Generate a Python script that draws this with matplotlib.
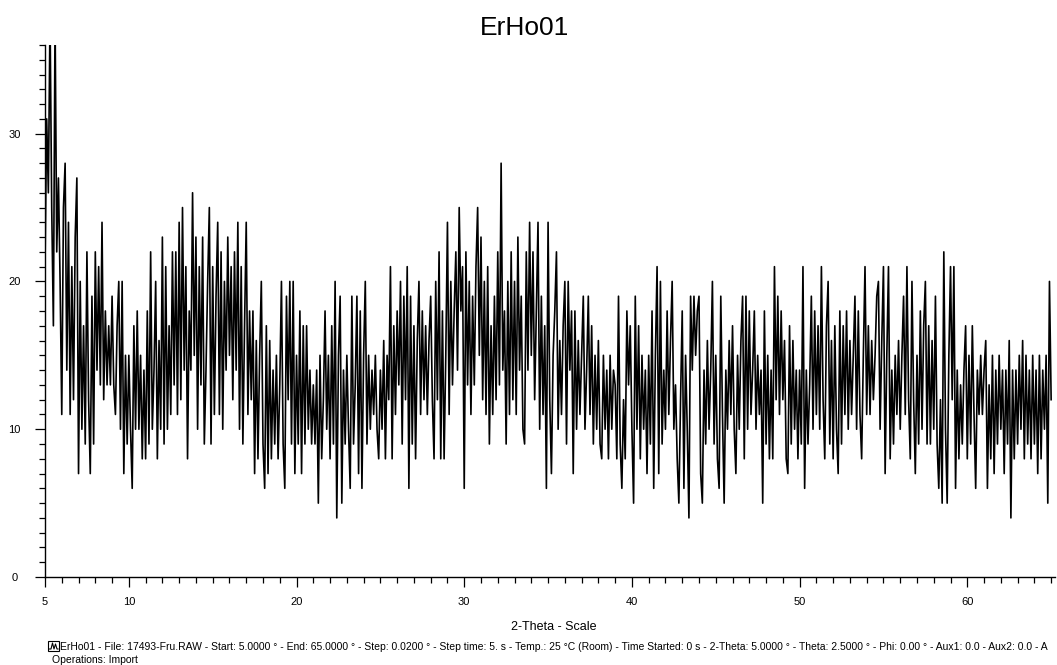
import numpy as np
import matplotlib
matplotlib.use("Agg")
import matplotlib.pyplot as plt
from matplotlib.ticker import MultipleLocator
from matplotlib.patches import Rectangle
from matplotlib.lines import Line2D

plt.rcParams['font.family'] = ['Liberation Sans', 'DejaVu Sans']

# co 0.1 stopnia (5.0 ... 65.0)
counts_05_15 = [
    21, 31, 26, 38, 25, 17, 38, 22, 27, 20,
    11, 25, 28, 14, 24, 11, 21, 12, 23, 27,
    7, 20, 10, 17, 9, 22, 12, 7, 19, 9,
    22, 14, 21, 13, 24, 12, 18, 13, 17, 13,
    19, 13, 11, 17, 20, 10, 20, 7, 15, 9,
    15, 10, 6, 17, 10, 18, 10, 15, 8, 14,
    8, 18, 9, 22, 10, 14, 20, 8, 16, 10,
    23, 9, 21, 10, 17, 11, 22, 13, 22, 11,
    24, 12, 25, 14, 21, 8, 18, 14, 26, 15,
    23, 10, 21, 13, 23, 9, 14, 20, 25, 9,
]
counts_15_25 = [
    21, 11, 19, 24, 11, 22, 10, 20, 14, 23,
    15, 21, 12, 22, 14, 24, 10, 21, 9, 17,
    24, 11, 18, 12, 18, 7, 16, 8, 15, 20,
    9, 6, 17, 7, 16, 8, 14, 9, 15, 8,
    13, 20, 9, 6, 19, 12, 20, 9, 20, 7,
    15, 9, 18, 7, 17, 9, 17, 10, 14, 9,
    13, 9, 14, 5, 15, 8, 12, 18, 10, 15,
    8, 17, 9, 20, 4, 15, 19, 5, 14, 9,
    15, 10, 6, 19, 9, 13, 19, 7, 18, 6,
    15, 20, 9, 15, 10, 14, 11, 15, 10, 8,
]
counts_25_35 = [
    14, 10, 16, 8, 15, 12, 21, 8, 17, 11,
    18, 13, 20, 9, 19, 12, 21, 6, 19, 9,
    17, 8, 16, 20, 11, 18, 12, 17, 11, 16,
    19, 12, 8, 20, 12, 22, 8, 18, 8, 15,
    24, 11, 20, 13, 18, 22, 14, 25, 18, 21,
    6, 22, 13, 20, 11, 19, 13, 21, 25, 15,
    23, 12, 20, 11, 21, 9, 17, 11, 19, 12,
    22, 13, 28, 14, 18, 9, 20, 11, 22, 12,
    20, 11, 23, 14, 19, 10, 9, 22, 14, 24,
    15, 22, 12, 18, 24, 10, 19, 11, 17, 6,
]
counts_35_45 = [
    24, 12, 7, 15, 18, 22, 10, 16, 11, 17,
    20, 9, 20, 14, 18, 7, 18, 10, 16, 11,
    15, 19, 10, 14, 19, 11, 17, 9, 15, 10,
    16, 9, 8, 15, 10, 14, 8, 15, 10, 14,
    13, 8, 19, 9, 6, 12, 8, 18, 13, 17,
    10, 5, 19, 10, 17, 8, 15, 10, 14, 7,
    15, 9, 18, 6, 15, 21, 7, 20, 9, 14,
    10, 18, 11, 16, 20, 10, 13, 8, 5, 12,
    18, 6, 15, 10, 4, 19, 14, 19, 15, 18,
    19, 7, 5, 14, 9, 16, 10, 14, 20, 9,
]
counts_45_55 = [
    15, 8, 6, 19, 11, 5, 14, 10, 16, 11,
    17, 10, 7, 15, 10, 16, 19, 8, 19, 10,
    18, 11, 14, 18, 10, 15, 11, 14, 5, 18,
    9, 15, 8, 14, 8, 21, 12, 19, 11, 18,
    12, 16, 8, 7, 17, 9, 16, 10, 14, 8,
    14, 9, 21, 6, 14, 9, 13, 19, 10, 18,
    11, 17, 10, 21, 12, 8, 17, 20, 9, 16,
    8, 17, 10, 7, 18, 9, 17, 11, 18, 10,
    16, 11, 15, 19, 10, 18, 11, 8, 15, 21,
    11, 17, 11, 16, 12, 15, 19, 20, 10, 16,
]
counts_55_65 = [
    21, 7, 15, 21, 8, 14, 9, 15, 11, 16,
    10, 15, 19, 11, 21, 12, 8, 20, 12, 7,
    15, 9, 18, 10, 17, 20, 9, 17, 9, 16,
    10, 19, 9, 6, 12, 5, 22, 10, 5, 15,
    21, 12, 21, 6, 14, 8, 13, 9, 14, 17,
    8, 15, 9, 17, 11, 6, 14, 11, 15, 11,
    14, 16, 6, 13, 8, 15, 7, 14, 9, 15,
    10, 14, 7, 14, 9, 16, 4, 14, 8, 14,
    9, 15, 10, 16, 8, 15, 9, 14, 8, 15,
    9, 14, 7, 15, 8, 14, 10, 15, 5, 20,
    12,
]

counts = (counts_05_15 + counts_15_25 + counts_25_35
          + counts_35_45 + counts_45_55 + counts_55_65)
start, end = 5.0, 65.0
two_theta = np.linspace(start, end, len(counts))

x_ticks = [5, 10, 20, 30, 40, 50, 60]
y_ticks = [0, 10, 20, 30]

title = "ErHo01"
x_label = "2-Theta - Scale"
info_line = ("ErHo01 - File: 17493-Fru.RAW - Start: 5.0000 ° - End: 65.0000 ° - Step: 0.0200 ° "
             "- Step time: 5. s - Temp.: 25 °C (Room) - Time Started: 0 s - 2-Theta: 5.0000 ° "
             "- Theta: 2.5000 ° - Phi: 0.00 ° - Aux1: 0.0 - Aux2: 0.0 - A")
ops_line = "Operations: Import"

W, H = 1057, 665
fig = plt.figure(figsize=(W / 100, H / 100), dpi=100)
ax = fig.add_axes([45 / W, 88 / H, 1010 / W, 532 / H])

ax.plot(two_theta, counts, color='black', lw=1.2)

ax.set_xlim(5, 65.23)
ax.set_ylim(0, 36)
ax.set_xticks(x_ticks, labels=[str(v) for v in x_ticks])
ax.set_yticks(y_ticks, labels=[str(v) for v in y_ticks], ha='center')
ax.xaxis.set_minor_locator(MultipleLocator(1))
ax.yaxis.set_minor_locator(MultipleLocator(1))

for s in ['top', 'right']:
    ax.spines[s].set_visible(False)
for s in ['left', 'bottom']:
    ax.spines[s].set_linewidth(1.0)

ax.tick_params(which='major', length=7.5, width=0.9, labelsize=8, direction='out')
ax.tick_params(which='minor', length=4.3, width=0.9, direction='out')
ax.tick_params(axis='x', which='major', pad=7)
ax.tick_params(axis='y', which='major', pad=14.5)

fig.text(525 / W, 1 - 35 / H, title, fontsize=19, ha='center', va='baseline')
fig.text(554 / W, 1 - 630 / H, x_label, fontsize=9, ha='center', va='baseline')
fig.text(60 / W, 1 - 650 / H, info_line, fontsize=7.5, ha='left', va='baseline')
fig.text(52 / W, 1 - 663 / H, ops_line, fontsize=7.5, ha='left', va='baseline')

# mała ikonka przed opisem
fig.add_artist(Rectangle((48 / W, 1 - 651 / H), 11 / W, 10 / H, transform=fig.transFigure,
                         fill=False, edgecolor='black', lw=0.8))
fig.add_artist(Line2D(np.array([49, 51, 52.5, 54, 55.5, 57, 58]) / W,
                      1 - np.array([649, 649, 643, 649, 644, 649, 649]) / H,
                      transform=fig.transFigure, color='black', lw=0.8))

fig.savefig("out.png", dpi=100)
